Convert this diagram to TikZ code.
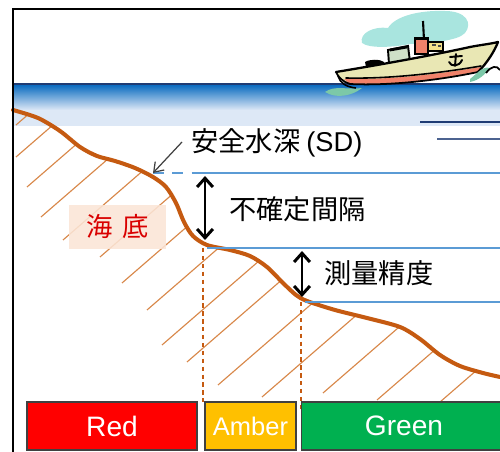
\documentclass[tikz,border=0pt]{standalone}
\usepackage{fontspec}
\setmainfont{Liberation Sans}
\newfontfamily\cjk{Noto Sans CJK JP}
\usetikzlibrary{arrows.meta}
\definecolor{seabed}{HTML}{C55A11}
\definecolor{hatchc}{HTML}{D8884A}
\definecolor{level}{HTML}{5B9BD5}
\definecolor{navy}{HTML}{1F3C74}
\definecolor{seablue}{HTML}{0C6CC0}
\definecolor{seapale}{HTML}{DDE8F6}
\definecolor{peach}{HTML}{FBE5D6}
\definecolor{zonered}{HTML}{FF0000}
\definecolor{zoneamber}{HTML}{FFC000}
\definecolor{zonegreen}{HTML}{00B050}
\definecolor{cloudc}{HTML}{A9E5DF}
\definecolor{hullc}{HTML}{E9E7B4}
\definecolor{stripec}{HTML}{F0826A}
\definecolor{bridgec}{HTML}{CFE0C8}
\definecolor{deckc}{HTML}{F5E08A}
\definecolor{wavec}{HTML}{7CC8A8}
\begin{document}
\begin{tikzpicture}[x=0.02cm,y=-0.02cm,
  cjklabel/.style={font=\cjk\fontsize{15.5}{18}\selectfont, inner sep=0pt, anchor=west},
  levelline/.style={level, line width=1.4pt},
  depth/.style={line width=1.7pt, {Straight Barb[length=5pt,width=9pt]}-{Straight Barb[length=5pt,width=9pt]}},
  guide/.style={seabed, line width=0.6pt, dash pattern=on 2.5pt off 2pt},
  zone/.style={draw=black!75, line width=0.6pt, inner sep=0pt, minimum height=0.96cm, text=white, font=\fontsize{16}{18}\selectfont},
  hatchline/.style={hatchc, line width=0.65pt},
  shipline/.style={black, line width=1.3pt, line join=round, line cap=round}]
\useasboundingbox (0,0) rectangle (500,452);
\clip (0,0) rectangle (500,452);

% sea surface band
\fill[seapale] (13,84) rectangle (500,126);
\shade[top color=seablue, middle color=seablue!75!seapale, bottom color=seapale] (13,85) rectangle (500,110);
\draw[navy, line width=1.1pt] (13,84) -- (500,84);

% ship: smoke cloud
\fill[cloudc] (362,43) .. controls (359,33) and (374,26) .. (388,28)
  .. controls (395,16) and (420,10) .. (445,11)
  .. controls (466,11) and (473,23) .. (465,33)
  .. controls (458,41) and (430,43) .. (410,44)
  .. controls (395,47) and (370,49) .. (362,43) -- cycle;
% mast, funnel, deck house, bridge
\draw[black, line width=1.2pt] (423,21) -- (424,40);
\filldraw[fill=deckc, draw=black, line width=0.6pt] (428,42) rectangle (443,51);
\draw[black!70, line width=0.8pt] (432,45) -- (436,45) (438,46) -- (441,46);
\filldraw[fill=stripec, draw=black, line width=0.9pt] (415,38) rectangle (428,54);
\draw[black, line width=1.4pt] (415,39) -- (428,39);
\filldraw[fill=bridgec, draw=black, line width=1.1pt] (388,50) -- (408,46) -- (410,62) -- (389,64) -- cycle;
\draw[black, line width=1.6pt] (390,50) -- (407,47);
\fill[black] (365,62) .. controls (370,59) and (380,59) .. (384,62) -- (383,66) -- (366,67) -- cycle;
% hull with waterline stripe
\fill[hullc] (336,72) .. controls (360,68) and (420,58) .. (470,47)
  .. controls (480,45) and (490,44) .. (498,42)
  .. controls (495,50) and (488,62) .. (478,72)
  .. controls (440,80) and (390,86) .. (350,84)
  .. controls (343,82) and (338,77) .. (336,72) -- cycle;
\fill[stripec] (344,79) .. controls (390,80) and (440,74) .. (481,67)
  -- (478,72) .. controls (440,80) and (390,86) .. (350,84) -- cycle;
\draw[shipline] (336,72) .. controls (360,68) and (420,58) .. (470,47)
  .. controls (480,45) and (490,44) .. (498,42)
  .. controls (495,50) and (488,62) .. (478,72);
\draw[shipline, line width=1.0pt] (478,72) .. controls (440,80) and (390,86) .. (350,84)
  .. controls (343,82) and (338,77) .. (336,72);
\draw[shipline, line width=0.9pt] (346,78) .. controls (390,79) and (440,73) .. (481,66);
% anchor emblem
\draw[shipline, line width=1.1pt] (456,54) -- (455,66) (450,57) -- (462,56)
  (449,62) .. controls (451,67) and (459,67) .. (462,60);
% waves
\fill[wavec] (325,92) .. controls (335,85) and (346,90) .. (362,88)
  .. controls (352,96) and (336,99) .. (325,92) -- cycle;
\draw[black, line width=0.9pt] (338,76) .. controls (340,83) and (346,87) .. (356,88);
\fill[wavec] (470,79) .. controls (478,73) and (482,66) .. (490,68)
  .. controls (485,74) and (480,80) .. (470,82) -- cycle;
\draw[black, line width=1pt] (486,73) .. controls (491,66) and (497,65) .. (500,70);

% depth marks at the right edge
\draw[navy, line width=1.1pt] (420,122) -- (500,122);
\draw[navy!80, line width=1.1pt] (437,139) -- (500,139);

% hatching of the sea floor
\begin{scope}
\clip plot[smooth, tension=0.5] coordinates {(13,110) (38,118) (60,131) (80,147) (97,156) (115,161) (135,168) (153,177) (166,187) (176,203) (184,222) (193,236) (207,245) (230,250) (250,256) (267,267) (283,283) (296,295) (307,301) (335,310) (367,318) (400,327) (420,339) (440,355) (460,366) (483,373) (500,377)} -- (500,430) -- (13,430) -- cycle;
\foreach \px/\py in {16/125, 16/157, 27/187, 41/217, 63/240, 100/257, 122/283, 147/310, 162/345, 187/362, 218/385, 262/397, 323/393, 377/400, 440/402}
  \draw[hatchline] (\px,\py) -- ++(150,-130);
\end{scope}

% sea floor profile
\draw[seabed, line width=2.3pt, line cap=round] plot[smooth, tension=0.5] coordinates {(13,110) (38,118) (60,131) (80,147) (97,156) (115,161) (135,168) (153,177) (166,187) (176,203) (184,222) (193,236) (207,245) (230,250) (250,256) (267,267) (283,283) (296,295) (307,301) (335,310) (367,318) (400,327) (420,339) (440,355) (460,366) (483,373) (500,377)};

% label for the sea floor
\node[fill=peach, fill opacity=0.88, text opacity=1, text=red!85!black, inner sep=0pt,
  minimum width=1.94cm, minimum height=0.88cm, font=\cjk\fontsize{15}{18}\selectfont]
  (floor) at (117.5,227) {海\hspace{0.35em}底};

% reference levels
\coordinate (sdstart) at (153,173);
\coordinate (sdsolid) at (196,173);
\coordinate (sdend) at (500,173);
\coordinate (midstart) at (207,248);
\coordinate (midend) at (500,248);
\coordinate (lowstart) at (305,302);
\coordinate (lowend) at (500,302);
\draw[levelline, dash pattern=on 6pt off 5pt] (sdstart) -- (sdsolid);
\draw[levelline] (sdsolid) -- (sdend);
\draw[levelline] (midstart) -- (midend);
\draw[levelline] (lowstart) -- (lowend);

% projections of the level crossings
\coordinate (g1top) at (203,248);
\coordinate (g1bot) at (203,402);
\coordinate (g2top) at (301,302);
\coordinate (g2bot) at (301,409);
\draw[guide] (g1top) -- (g1bot);
\draw[guide] (g2top) -- (g2bot);

% depth intervals
\coordinate (a1top) at (205,176);
\coordinate (a1bot) at (205,240);
\coordinate (a2top) at (302,251);
\coordinate (a2bot) at (302,297);
\draw[depth] (a1top) -- (a1bot);
\draw[depth] (a2top) -- (a2bot);

% texts
\node[cjklabel] (sdlabel) at (191,143) {安全水深 \fontspec{Liberation Sans}(SD)};
\node[cjklabel] (gaplabel) at (229,209) {不確定間隔};
\node[cjklabel] (acclabel) at (324,273) {測量精度};
\draw[black!75, line width=0.7pt, -{Straight Barb[length=5pt,width=7pt]}] (sdlabel.west) ++(-9,-1) coordinate (sdtail) (sdtail) -- (sdstart);

% zones
\node[zone, fill=zonered, minimum width=3.4cm] (red) at (112,426) {Red};
\node[zone, fill=zoneamber, minimum width=1.82cm, font=\fontsize{14.5}{16}\selectfont] (amber) at (250.5,426) {\raisebox{-0.05cm}{Amber}};
\node[zone, fill=zonegreen, minimum width=4.1cm] (green) at (404,426) {Green};

% frame
\draw[black, line width=0.9pt] (500,9) -- (13,9) -- (13,452);
\end{tikzpicture}
\end{document}
